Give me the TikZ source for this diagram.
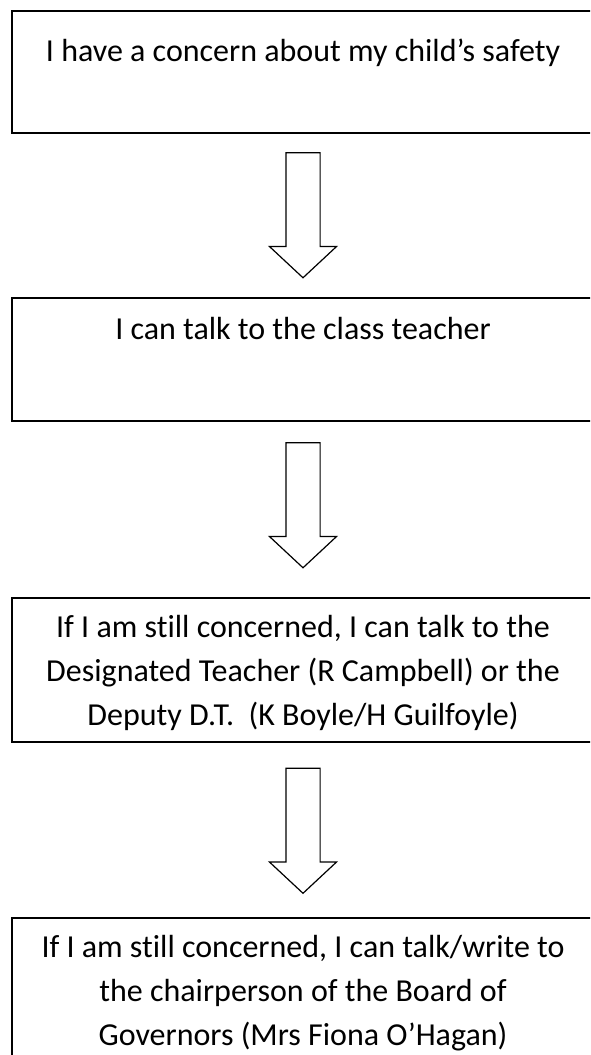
\documentclass[tikz,border=0pt]{standalone}
\usepackage{fontspec}
\setmainfont{Carlito}[Ligatures=NoCommon]
\usetikzlibrary{positioning, calc, shapes.arrows}

% #1 box height, #2 first baseline, #3 text
\newcommand\boxtext[3]{\parbox[t][#1][t]{582pt}{\centering\fontsize{32}{44}\selectfont\rule{0pt}{#2}#3}}

\begin{document}
\begin{tikzpicture}[x=1pt,y=-1pt,
    stepbox/.style={draw=black,line width=1.6pt,inner sep=0pt,anchor=north},
    downarrow/.style={single arrow,draw=black,line width=1.2pt,fill=white,rotate=-90,
      minimum height=125pt,inner xsep=0pt,inner ysep=16.5pt,
      single arrow head extend=16.5pt,single arrow tip angle=94}]
  \useasboundingbox (0,0) rectangle (590,1055);
  \clip (0,0) rectangle (590,1055);
  % Boxes
  \node[stepbox] (b1) at (303,10)  {\boxtext{122pt}{51pt}{I have a concern about my child’s safety}};
  \node[stepbox] (b2) at (303,297) {\boxtext{123pt}{42pt}{I can talk to the class teacher}};
  \node[stepbox] (b3) at (303,597) {\boxtext{144pt}{40pt}{If I am still concerned, I can talk to the\\
      Designated Teacher (R Campbell) or the\\ Deputy D.T.\ \ (K Boyle/H Guilfoyle)}};
  \node[stepbox] (b4) at (303,917) {\boxtext{150pt}{40pt}{If I am still concerned, I can talk/write to\\
      the chairperson of the Board of\\ Governors (Mrs Fiona O’Hagan)}};
  % Arrows
  \node[downarrow] (a1) at ($(b1.south)!0.5!(b2.north)+(0,-8)$) {};
  \node[downarrow] (a2) at ($(b2.south)!0.5!(b3.north)+(0,-12)$) {};
  \node[downarrow] (a3) at ($(b3.south)!0.5!(b4.north)+(0,-7)$) {};
\end{tikzpicture}
\end{document}
